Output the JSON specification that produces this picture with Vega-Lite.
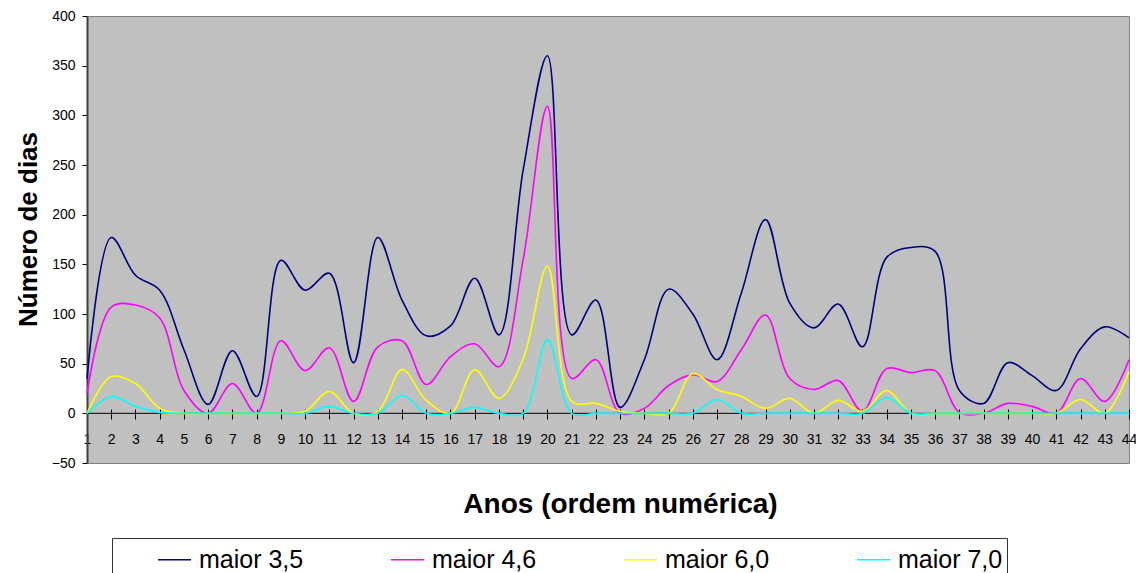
{
  "$schema": "https://vega.github.io/schema/vega-lite/v6.json",
  "width": 1042,
  "height": 447,
  "autosize": {"type": "none"},
  "padding": {"left": 87, "top": 16, "right": 7, "bottom": 110},
  "background": "white",
  "config": {
    "font": "Liberation Sans",
    "view": {"fill": "#C0C0C0", "stroke": "#808080", "strokeWidth": 1}
  },
  "layer": [
    {
      "data": {"values": [{}]},
      "mark": {"type": "rule", "color": "black", "strokeWidth": 1},
      "encoding": {"y": {"datum": 0}}
    },
    {
      "data": {
        "values": [
          {"ano": 1, "maior 3,5": 35, "maior 4,6": 20, "maior 6,0": 0, "maior 7,0": 0},
          {"ano": 2, "maior 3,5": 177, "maior 4,6": 107, "maior 6,0": 37, "maior 7,0": 17},
          {"ano": 3, "maior 3,5": 139, "maior 4,6": 109, "maior 6,0": 30, "maior 7,0": 7},
          {"ano": 4, "maior 3,5": 124, "maior 4,6": 96, "maior 6,0": 5, "maior 7,0": 1},
          {"ano": 5, "maior 3,5": 64, "maior 4,6": 23, "maior 6,0": 0, "maior 7,0": 0},
          {"ano": 6, "maior 3,5": 9, "maior 4,6": 0, "maior 6,0": 0, "maior 7,0": 0},
          {"ano": 7, "maior 3,5": 63, "maior 4,6": 30, "maior 6,0": 0, "maior 7,0": 0},
          {"ano": 8, "maior 3,5": 17, "maior 4,6": 0, "maior 6,0": 0, "maior 7,0": 0},
          {"ano": 9, "maior 3,5": 154, "maior 4,6": 73, "maior 6,0": 0, "maior 7,0": 0},
          {"ano": 10, "maior 3,5": 124, "maior 4,6": 43, "maior 6,0": 2, "maior 7,0": 0},
          {"ano": 11, "maior 3,5": 141, "maior 4,6": 66, "maior 6,0": 22, "maior 7,0": 7},
          {"ano": 12, "maior 3,5": 51, "maior 4,6": 12, "maior 6,0": 0, "maior 7,0": 0},
          {"ano": 13, "maior 3,5": 177, "maior 4,6": 67, "maior 6,0": 2, "maior 7,0": 0},
          {"ano": 14, "maior 3,5": 114, "maior 4,6": 73, "maior 6,0": 44, "maior 7,0": 18},
          {"ano": 15, "maior 3,5": 78, "maior 4,6": 29, "maior 6,0": 13, "maior 7,0": 0},
          {"ano": 16, "maior 3,5": 88, "maior 4,6": 57, "maior 6,0": 0, "maior 7,0": 0},
          {"ano": 17, "maior 3,5": 136, "maior 4,6": 70, "maior 6,0": 44, "maior 7,0": 6},
          {"ano": 18, "maior 3,5": 79, "maior 4,6": 47, "maior 6,0": 15, "maior 7,0": 0},
          {"ano": 19, "maior 3,5": 245, "maior 4,6": 155, "maior 6,0": 55, "maior 7,0": 0},
          {"ano": 20, "maior 3,5": 360, "maior 4,6": 309, "maior 6,0": 148, "maior 7,0": 74},
          {"ano": 21, "maior 3,5": 79, "maior 4,6": 35, "maior 6,0": 12, "maior 7,0": 0},
          {"ano": 22, "maior 3,5": 114, "maior 4,6": 54, "maior 6,0": 10, "maior 7,0": 0},
          {"ano": 23, "maior 3,5": 6, "maior 4,6": 0, "maior 6,0": 2, "maior 7,0": 0},
          {"ano": 24, "maior 3,5": 54, "maior 4,6": 5, "maior 6,0": 0, "maior 7,0": 0},
          {"ano": 25, "maior 3,5": 125, "maior 4,6": 28, "maior 6,0": 0, "maior 7,0": 0},
          {"ano": 26, "maior 3,5": 100, "maior 4,6": 39, "maior 6,0": 40, "maior 7,0": 0},
          {"ano": 27, "maior 3,5": 54, "maior 4,6": 32, "maior 6,0": 24, "maior 7,0": 14},
          {"ano": 28, "maior 3,5": 121, "maior 4,6": 64, "maior 6,0": 17, "maior 7,0": 0},
          {"ano": 29, "maior 3,5": 195, "maior 4,6": 99, "maior 6,0": 5, "maior 7,0": 0},
          {"ano": 30, "maior 3,5": 111, "maior 4,6": 35, "maior 6,0": 15, "maior 7,0": 0},
          {"ano": 31, "maior 3,5": 86, "maior 4,6": 24, "maior 6,0": 0, "maior 7,0": 0},
          {"ano": 32, "maior 3,5": 110, "maior 4,6": 33, "maior 6,0": 13, "maior 7,0": 0},
          {"ano": 33, "maior 3,5": 67, "maior 4,6": 2, "maior 6,0": 2, "maior 7,0": 0},
          {"ano": 34, "maior 3,5": 157, "maior 4,6": 45, "maior 6,0": 23, "maior 7,0": 16},
          {"ano": 35, "maior 3,5": 167, "maior 4,6": 41, "maior 6,0": 0, "maior 7,0": 0},
          {"ano": 36, "maior 3,5": 163, "maior 4,6": 43, "maior 6,0": 0, "maior 7,0": 0},
          {"ano": 37, "maior 3,5": 23, "maior 4,6": 1, "maior 6,0": 0, "maior 7,0": 0},
          {"ano": 38, "maior 3,5": 10, "maior 4,6": 0, "maior 6,0": 0, "maior 7,0": 0},
          {"ano": 39, "maior 3,5": 51, "maior 4,6": 10, "maior 6,0": 0, "maior 7,0": 0},
          {"ano": 40, "maior 3,5": 38, "maior 4,6": 7, "maior 6,0": 0, "maior 7,0": 0},
          {"ano": 41, "maior 3,5": 23, "maior 4,6": 0, "maior 6,0": 0, "maior 7,0": 0},
          {"ano": 42, "maior 3,5": 65, "maior 4,6": 35, "maior 6,0": 14, "maior 7,0": 0},
          {"ano": 43, "maior 3,5": 87, "maior 4,6": 12, "maior 6,0": 0, "maior 7,0": 0},
          {"ano": 44, "maior 3,5": 76, "maior 4,6": 54, "maior 6,0": 42, "maior 7,0": 0}
        ]
      },
      "transform": [
        {"fold": ["maior 3,5", "maior 4,6", "maior 6,0", "maior 7,0"], "as": ["serie", "dias"]}
      ],
      "mark": {"type": "line", "interpolate": "catmull-rom", "strokeWidth": 1.6},
      "encoding": {
        "x": {
          "field": "ano",
          "type": "quantitative",
          "scale": {"domain": [1, 44], "nice": false, "zero": false},
          "axis": {
            "values": [1,2,3,4,5,6,7,8,9,10,11,12,13,14,15,16,17,18,19,20,21,22,23,24,25,26,27,28,29,30,31,32,33,34,35,36,37,38,39,40,41,42,43,44],
            "title": "Anos (ordem numérica)",
            "domain": false,
            "grid": false,
            "offset": -54,
            "tickSize": 10,
            "tickColor": "black",
            "tickWidth": 1,
            "labelFontSize": 14,
            "labelPadding": 13,
            "labelFlush": false,
            "labelOverlap": false,
            "labelColor": "black",
            "titleFontSize": 28,
            "titleFontWeight": "bold",
            "titleColor": "black",
            "titleX": 533,
            "titleY": 103,
            "titleBaseline": "alphabetic",
            "titleAlign": "center"
          }
        },
        "y": {
          "field": "dias",
          "type": "quantitative",
          "scale": {"domain": [-50, 400], "nice": false},
          "axis": {
            "values": [-50, 0, 50, 100, 150, 200, 250, 300, 350, 400],
            "title": "Número de dias",
            "grid": false,
            "domainColor": "#404040",
            "domainWidth": 2,
            "tickColor": "black",
            "tickSize": 5,
            "labelFontSize": 14,
            "labelPadding": 7,
            "labelColor": "black",
            "titleFontSize": 26,
            "titleFontWeight": "bold",
            "titleColor": "black",
            "titleX": -51,
            "titleY": 213,
            "titleBaseline": "alphabetic",
            "titleAlign": "center",
            "titleAngle": -90
          }
        },
        "color": {
          "field": "serie",
          "type": "nominal",
          "scale": {
            "domain": ["maior 3,5", "maior 4,6", "maior 6,0", "maior 7,0"],
            "range": ["#000080", "#FF00FF", "#FFFF00", "#00FFFF"]
          },
          "legend": {
            "title": null,
            "orient": "none",
            "legendX": 25,
            "legendY": 522,
            "direction": "horizontal",
            "columns": 4,
            "symbolType": "stroke",
            "symbolSize": 1089,
            "symbolStrokeWidth": 1.5,
            "labelFontSize": 25,
            "labelOffset": 7,
            "labelLimit": 300,
            "labelColor": "black",
            "padding": 4,
            "symbolOffset": 41,
            "columnPadding": 45,
            "fillColor": "white",
            "strokeColor": "#333333"
          }
        }
      }
    }
  ]
}
